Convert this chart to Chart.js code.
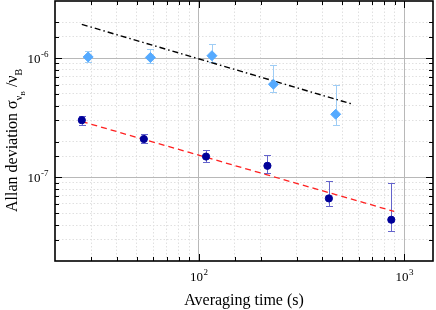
<!DOCTYPE html>
<html><head><meta charset="utf-8">
<script src="https://cdn.jsdelivr.net/npm/chart.js@4.4.1/dist/chart.umd.min.js"></script>
<style>html,body{margin:0;padding:0;background:#fff}</style>
</head><body>
<canvas id="c" width="436" height="310"></canvas>
<script>
// ---- data ----
const lightX  = [29, 58.2, 116, 231, 464];
const lightY  = [1.02e-6, 1.01e-6, 1.045e-6, 6.03e-7, 3.38e-7];
const lightHi = [1.144e-6, 1.18e-6, 1.316e-6, 8.69e-7, 5.91e-7];
const lightLo = [9.31e-7, 9.14e-7, 9.31e-7, 5.17e-7, 2.74e-7];

const darkX  = [27, 54.1, 108.6, 216, 430, 865];
const darkY  = [3.02e-7, 2.1e-7, 1.497e-7, 1.253e-7, 6.68e-8, 4.43e-8];
const darkHi = [3.28e-7, 2.3e-7, 1.71e-7, 1.54e-7, 9.38e-8, 8.98e-8];
const darkLo = [2.75e-7, 1.93e-7, 1.36e-7, 1.09e-7, 5.77e-8, 3.59e-8];

const blackFitX = [27, 562];
const blackFitY = [1.912e-6, 4.1e-7];
const redFitX = [27, 893];
const redFitY = [2.94e-7, 5.2e-8];

const xTickValues = [100, 1000];
const xTickExps   = ['2', '3'];
const yTickValues = [1e-6, 1e-7];
const yTickExps   = ['-6', '-7'];

const xTitle = 'Averaging time (s)';
const xMin = 20, xMax = 1380, yMin = 2e-8, yMax = 3e-6;

// ---- helpers ----
const FONT = "'Liberation Serif','Times New Roman',serif";
const pts = (xs, ys) => xs.map((v, i) => ({x: v, y: ys[i]}));
const isDecade = v => Math.abs(Math.log10(v) - Math.round(Math.log10(v))) < 1e-6;
const gridColor = (ctx) => {
  const v = ctx.tick && ctx.tick.value;
  const s = ctx.scale;
  if (v === undefined || v <= s.min * 1.0001 || v >= s.max * 0.9999) return 'rgba(0,0,0,0)';
  return isDecade(v) ? '#b8b8b8' : '#e0e0e0';
};
const gridDash = (ctx) => {
  const v = ctx.tick && ctx.tick.value;
  return (v !== undefined && isDecade(v)) ? [] : [1.5, 2];
};

function drawErr(ctx, xs, lo, hi, color, sx, sy) {
  ctx.strokeStyle = color; ctx.lineWidth = 1;
  for (let i = 0; i < xs.length; i++) {
    const px = Math.round(sx.getPixelForValue(xs[i])) + 0.5;
    const p1 = Math.round(sy.getPixelForValue(lo[i])) + 0.5;
    const p2 = Math.round(sy.getPixelForValue(hi[i])) + 0.5;
    ctx.beginPath();
    ctx.moveTo(px, p1); ctx.lineTo(px, p2);
    ctx.moveTo(px - 3.5, p1); ctx.lineTo(px + 3.5, p1);
    ctx.moveTo(px - 3.5, p2); ctx.lineTo(px + 3.5, p2);
    ctx.stroke();
  }
}

const decor = {
  id: 'decor',
  beforeDatasetsDraw(chart) {
    const {ctx, chartArea: a} = chart;
    const sx = chart.scales.x, sy = chart.scales.y;
    ctx.save();
    ctx.beginPath(); ctx.rect(a.left, a.top, a.right - a.left, a.bottom - a.top); ctx.clip();
    drawErr(ctx, lightX, lightLo, lightHi, '#9fcdf5', sx, sy);
    drawErr(ctx, darkX, darkLo, darkHi, '#6464cc', sx, sy);
    ctx.restore();
  },
  afterDraw(chart) {
    const {ctx, chartArea: a} = chart;
    const sx = chart.scales.x, sy = chart.scales.y;
    ctx.save();
    // inner ticks on four sides
    ctx.strokeStyle = '#000'; ctx.lineWidth = 1;
    ctx.beginPath();
    sx.ticks.forEach(t => {
      const v = t.value;
      if (v <= sx.min * 1.0001 || v >= sx.max * 0.9999) return;
      const px = Math.round(sx.getPixelForValue(v)) + 0.5;
      const L = isDecade(v) ? 7 : 4;
      ctx.moveTo(px, a.bottom); ctx.lineTo(px, a.bottom - L);
      ctx.moveTo(px, a.top); ctx.lineTo(px, a.top + L);
    });
    sy.ticks.forEach(t => {
      const v = t.value;
      if (v <= sy.min * 1.0001 || v >= sy.max * 0.9999) return;
      const py = Math.round(sy.getPixelForValue(v)) + 0.5;
      const L = isDecade(v) ? 7 : 4;
      ctx.moveTo(a.left, py); ctx.lineTo(a.left + L, py);
      ctx.moveTo(a.right, py); ctx.lineTo(a.right - L, py);
    });
    ctx.stroke();
    // frame
    ctx.lineWidth = 1.6;
    ctx.strokeRect(a.left, a.top, a.right - a.left, a.bottom - a.top);

    // tick labels
    ctx.fillStyle = '#000';
    ctx.textBaseline = 'alphabetic';
    ctx.textAlign = 'left';
    xTickValues.forEach((v, i) => {
      const px = sx.getPixelForValue(v);
      ctx.font = '13px ' + FONT; const w1 = ctx.measureText('10').width;
      ctx.font = '9px ' + FONT; const w2 = ctx.measureText(xTickExps[i]).width;
      const x0 = px - (w1 + w2) / 2;
      ctx.font = '13px ' + FONT; ctx.fillText('10', x0, 281);
      ctx.font = '9px ' + FONT; ctx.fillText(xTickExps[i], x0 + w1 + 0.5, 275);
    });
    yTickValues.forEach((v, i) => {
      const py = sy.getPixelForValue(v);
      ctx.font = '9px ' + FONT; const w2 = ctx.measureText(yTickExps[i]).width;
      ctx.font = '13px ' + FONT; const w1 = ctx.measureText('10').width;
      const xr = 48.5;
      ctx.fillText('10', xr - w2 - 0.5 - w1, py + 5);
      ctx.font = '9px ' + FONT; ctx.fillText(yTickExps[i], xr - w2, py - 1);
    });

    // x title
    ctx.font = '16px ' + FONT;
    ctx.textAlign = 'center';
    ctx.fillText(xTitle, (a.left + a.right) / 2, 305);

    // y title with subscripts
    ctx.textAlign = 'left';
    ctx.translate(17, 212);
    ctx.rotate(-Math.PI / 2);
    const pieces = [
      {t: 'Allan deviation σ', f: 16, dy: 0},
      {t: 'ν', f: 10, dy: 5},
      {t: 'B', f: 7, dy: 8},
      {t: ' /ν', f: 16, dy: 0},
      {t: 'B', f: 10, dy: 5}
    ];
    let cx = 0;
    pieces.forEach(p => {
      ctx.font = p.f + 'px ' + FONT;
      ctx.fillText(p.t, cx, p.dy);
      cx += ctx.measureText(p.t).width;
    });
    ctx.restore();
  }
};

new Chart(document.getElementById('c'), {
  type: 'scatter',
  data: {
    datasets: [
      {data: pts(darkX, darkY), pointStyle: 'circle', pointRadius: 3.6,
       backgroundColor: '#000099', borderColor: '#000099', borderWidth: 1},
      {data: pts(lightX, lightY), pointStyle: 'rectRot', pointRadius: 5,
       backgroundColor: '#55aaff', borderColor: '#55aaff', borderWidth: 1},
      {data: pts(redFitX, redFitY), showLine: true, pointRadius: 0,
       borderColor: '#ff2020', borderWidth: 1.3, borderDash: [6, 4]},
      {data: pts(blackFitX, blackFitY), showLine: true, pointRadius: 0,
       borderColor: '#000', borderWidth: 1.4, borderDash: [6, 3, 1.5, 3]}
    ]
  },
  options: {
    responsive: false,
    animation: false,
    devicePixelRatio: 1,
    layout: {autoPadding: false, padding: {left: 55, right: 3, top: 1, bottom: 49}},
    plugins: {legend: {display: false}, tooltip: {enabled: false}},
    scales: {
      x: {type: 'logarithmic', min: xMin, max: xMax,
          ticks: {display: false},
          grid: {drawTicks: false, color: gridColor, lineWidth: 1},
          border: {display: false, dash: gridDash}},
      y: {type: 'logarithmic', min: yMin, max: yMax,
          ticks: {display: false},
          grid: {drawTicks: false, color: gridColor, lineWidth: 1},
          border: {display: false, dash: gridDash}}
    }
  },
  plugins: [decor]
});
</script>
</body></html>
